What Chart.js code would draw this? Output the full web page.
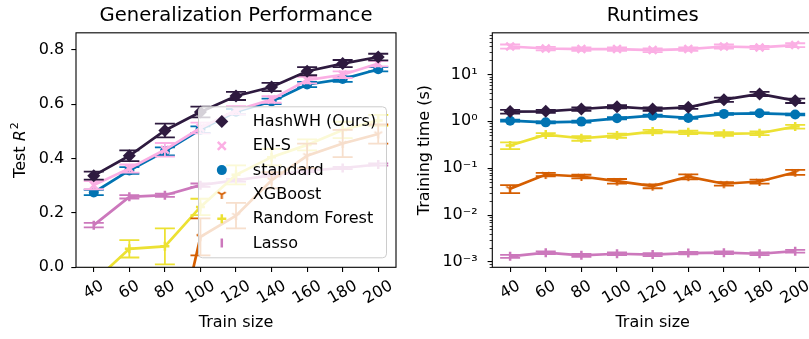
<!DOCTYPE html>
<html>
<head>
<meta charset="utf-8">
<script src="https://cdn.jsdelivr.net/npm/chart.js@4.4.1/dist/chart.umd.min.js"></script>
<style>
  html, body { margin: 0; padding: 0; background: #fff; overflow: hidden; }
  #wrap { position: relative; width: 809px; height: 339px; overflow: hidden; }
  canvas { position: absolute; top: 0; }
  #perf { left: 0; }
  #time { left: 404px; }
</style>
</head>
<body>
<div id="wrap">
  <canvas id="perf" width="404" height="339"></canvas>
  <canvas id="time" width="420" height="339"></canvas>
</div>
<script>
// data
const trainSizes = [40, 60, 80, 100, 120, 140, 160, 180, 200];
const seriesNames = ['HashWH (Ours)', 'EN-S', 'standard', 'XGBoost', 'Random Forest', 'Lasso'];

// Test R^2
const hashR2  = [0.337, 0.410, 0.503, 0.571, 0.630, 0.663, 0.721, 0.749, 0.773];
const ensR2   = [0.302, 0.363, 0.432, 0.512, 0.577, 0.617, 0.688, 0.708, 0.749];
const stdR2   = [0.275, 0.356, 0.426, 0.506, 0.572, 0.610, 0.672, 0.692, 0.728];
const xgbR2   = [-1.60, -0.90, -0.46, 0.112, 0.190, 0.320, 0.410, 0.455, 0.490];
const rfR2    = [-0.053, 0.068, 0.077, 0.222, 0.340, 0.405, 0.450, 0.505, 0.540];
const lassoR2 = [0.155, 0.259, 0.265, 0.302, 0.320, 0.338, 0.355, 0.365, 0.378];

const hashR2Err  = [0.015, 0.020, 0.025, 0.020, 0.015, 0.015, 0.015, 0.013, 0.012];
const ensR2Err   = [0.015, 0.015, 0.025, 0.020, 0.015, 0.012, 0.012, 0.012, 0.010];
const stdR2Err   = [0.010, 0.012, 0.015, 0.012, 0.010, 0.010, 0.010, 0.010, 0.008];
const xgbR2Err   = [0.30, 0.20, 0.10, 0.068, 0.047, 0.030, 0.045, 0.050, 0.035];
const rfR2Err    = [0.050, 0.032, 0.066, 0.030, 0.035, 0.030, 0.020, 0.030, 0.020];
const lassoR2Err = [0.008, 0.006, 0.006, 0.006, 0.005, 0.005, 0.005, 0.004, 0.004];

// Training time (s)
const hashTime  = [1.61, 1.63, 1.83, 2.05, 1.83, 1.99, 2.90, 3.83, 2.76];
const ensTime   = [39.4, 35.7, 34.7, 34.7, 33.0, 34.7, 39.4, 37.6, 42.2];
const stdTime   = [1.03, 0.95, 0.985, 1.16, 1.32, 1.18, 1.44, 1.48, 1.40];
const xgbTime   = [0.0365, 0.0734, 0.0666, 0.0529, 0.0414, 0.066, 0.0466, 0.0521, 0.082];
const rfTime    = [0.304, 0.521, 0.435, 0.496, 0.604, 0.583, 0.540, 0.556, 0.771];
const lassoTime = [0.00132, 0.00158, 0.00139, 0.00150, 0.00144, 0.00155, 0.00158, 0.00150, 0.00170];

const hashTimeErr  = [0.15, 0.12, 0.15, 0.15, 0.15, 0.15, 0.30, 0.40, 0.30];
const ensTimeErr   = [4, 3, 3, 3, 3, 3, 4, 3, 4];
const stdTimeErr   = [0.05, 0.04, 0.05, 0.06, 0.06, 0.05, 0.06, 0.06, 0.06];
const xgbTimeErr   = [0.007, 0.006, 0.006, 0.006, 0.004, 0.008, 0.004, 0.005, 0.010];
const rfTimeErr    = [0.05, 0.04, 0.05, 0.05, 0.05, 0.05, 0.05, 0.05, 0.07];
const lassoTimeErr = [0.0001, 0.0001, 0.0001, 0.0001, 0.0001, 0.0001, 0.0001, 0.0001, 0.00012];

const r2Ticks = [0, 0.2, 0.4, 0.6, 0.8];
const timeTicks = [1e-3, 1e-2, 1e-1, 1, 1e1];

// styles
const colors = ['#2e1a3f', '#fbafe4', '#0173b2', '#d55e00', '#ece133', '#cc78bc'];
const FONT = 'DejaVu Sans';

// matplotlib-like tri_down marker
function triDown(color, r) {
  const c = document.createElement('canvas');
  c.width = c.height = Math.ceil(r * 2 + 4);
  const g = c.getContext('2d');
  const m = c.width / 2;
  g.strokeStyle = color; g.lineWidth = 2; g.lineCap = 'butt';
  g.beginPath();
  g.moveTo(m, m); g.lineTo(m, m + r);
  g.moveTo(m, m); g.lineTo(m + 0.866 * r, m - 0.5 * r);
  g.moveTo(m, m); g.lineTo(m - 0.866 * r, m - 0.5 * r);
  g.stroke();
  return c;
}

const markers = [
  { style: 'rectRot', r: 6.5, bw: 0 },
  { style: 'crossRot', r: 5.5, bw: 2.5 },
  { style: 'circle', r: 5, bw: 0 },
  { style: triDown(colors[3], 4.5), r: 5, bw: 0 },
  { style: 'cross', r: 4.5, bw: 2.5 },
  { style: 'line', r: 4.5, bw: 2.5, rot: 90 }
];

function makeDatasets(values, errors) {
  return seriesNames.map((name, k) => ({
    label: name,
    data: trainSizes.map((x, i) => ({ x: x, y: values[k][i] })),
    errors: errors[k],
    borderColor: colors[k],
    backgroundColor: colors[k],
    borderWidth: 2.7,
    pointStyle: markers[k].style,
    pointRadius: markers[k].r,
    pointRotation: markers[k].rot || 0,
    pointBorderWidth: markers[k].bw,
    pointBackgroundColor: colors[k],
    pointBorderColor: colors[k],
    tension: 0
  }));
}

// --- plugins ---
const errorBars = {
  id: 'errorBars',
  beforeDatasetDraw(chart, args) {
    const ds = chart.data.datasets[args.index];
    if (!ds.errors) return;
    const { ctx, chartArea: a } = chart;
    const xs = chart.scales.x, ys = chart.scales.y;
    const isLog = ys.type === 'logarithmic';
    ctx.save();
    ctx.beginPath();
    ctx.rect(a.left, a.top, a.right - a.left, a.bottom - a.top);
    ctx.clip();
    ctx.strokeStyle = ds.borderColor;
    ctx.lineWidth = 1.8;
    ds.data.forEach((p, i) => {
      const e = ds.errors[i];
      let lo = p.y - e, hi = p.y + e;
      if (isLog && lo <= 0) lo = p.y * 0.5;
      const x = xs.getPixelForValue(p.x);
      const y1 = ys.getPixelForValue(lo), y2 = ys.getPixelForValue(hi);
      ctx.beginPath();
      ctx.moveTo(x, y1); ctx.lineTo(x, y2);
      ctx.moveTo(x - 10, y1); ctx.lineTo(x + 10, y1);
      ctx.moveTo(x - 10, y2); ctx.lineTo(x + 10, y2);
      ctx.stroke();
    });
    ctx.restore();
  }
};

const frame = {
  id: 'frame',
  afterDatasetsDraw(chart) {
    const { ctx, chartArea: a } = chart;
    ctx.save();
    ctx.strokeStyle = '#000';
    ctx.lineWidth = 1.1;
    ctx.strokeRect(a.left, a.top, a.right - a.left, a.bottom - a.top);
    ctx.restore();
  }
};

// rotated x tick labels, centred under the tick like matplotlib
const xLabels = {
  id: 'xLabels',
  afterDraw(chart) {
    const { ctx, chartArea: a } = chart;
    const xs = chart.scales.x;
    ctx.save();
    ctx.font = '16px ' + FONT;
    ctx.fillStyle = '#000';
    ctx.textAlign = 'center';
    ctx.textBaseline = 'middle';
    trainSizes.forEach(v => {
      const t = String(v);
      const w = ctx.measureText(t).width;
      const px = xs.getPixelForValue(v);
      const cy = a.bottom + 11.5 + (w * 0.5 + 14 * 0.866) / 2;
      ctx.save();
      ctx.translate(px, cy);
      ctx.rotate(-Math.PI / 6);
      ctx.fillText(t, 0, 0);
      ctx.restore();
    });
    ctx.restore();
  }
};

const minorTicks = {
  id: 'minorTicks',
  afterDraw(chart) {
    const ys = chart.scales.y;
    if (ys.type !== 'logarithmic') return;
    const { ctx, chartArea: a } = chart;
    ctx.save();
    ctx.strokeStyle = '#000';
    ctx.lineWidth = 0.8;
    for (let d = -4; d <= 2; d++) {
      for (let m = 2; m <= 9; m++) {
        const v = m * Math.pow(10, d);
        if (v < ys.min || v > ys.max) continue;
        const y = Math.round(ys.getPixelForValue(v)) + 0.5;
        ctx.beginPath();
        ctx.moveTo(a.left - 2.7, y); ctx.lineTo(a.left, y);
        ctx.stroke();
      }
    }
    ctx.restore();
  }
};

function drawMarker(ctx, k, x, y) {
  const c = colors[k];
  ctx.save();
  ctx.fillStyle = c; ctx.strokeStyle = c; ctx.lineWidth = 2.5;
  ctx.beginPath();
  if (k === 0) {
    const r = 6.5;
    ctx.moveTo(x - r, y); ctx.lineTo(x, y - r); ctx.lineTo(x + r, y); ctx.lineTo(x, y + r);
    ctx.closePath(); ctx.fill();
  } else if (k === 1) {
    const r = 4;
    ctx.moveTo(x - r, y - r); ctx.lineTo(x + r, y + r);
    ctx.moveTo(x + r, y - r); ctx.lineTo(x - r, y + r);
    ctx.stroke();
  } else if (k === 2) {
    ctx.arc(x, y, 5, 0, Math.PI * 2); ctx.fill();
  } else if (k === 3) {
    const img = markers[3].style;
    ctx.drawImage(img, x - img.width / 2, y - img.height / 2);
  } else if (k === 4) {
    ctx.moveTo(x - 4.5, y); ctx.lineTo(x + 4.5, y);
    ctx.moveTo(x, y - 4.5); ctx.lineTo(x, y + 4.5);
    ctx.stroke();
  } else {
    ctx.moveTo(x, y - 4.5); ctx.lineTo(x, y + 4.5);
    ctx.stroke();
  }
  ctx.restore();
}

// legend box in lower right of the R^2 axes, semi-transparent like matplotlib
const boxLegend = {
  id: 'boxLegend',
  afterDraw(chart) {
    const { ctx, chartArea: a } = chart;
    const w = 188, h = 151;
    const left = a.right - 9.5 - w, top = a.bottom - 9.5 - h;
    ctx.save();
    ctx.beginPath();
    ctx.roundRect(left, top, w, h, 4);
    ctx.fillStyle = 'rgba(255,255,255,0.8)';
    ctx.fill();
    ctx.strokeStyle = '#cccccc';
    ctx.lineWidth = 1;
    ctx.stroke();
    ctx.font = '16px ' + FONT;
    ctx.fillStyle = '#000';
    ctx.textBaseline = 'middle';
    seriesNames.forEach((name, k) => {
      const y = top + 14.7 + k * 24.3;
      drawMarker(ctx, k, left + 23.3, y);
      ctx.fillStyle = '#000';
      ctx.fillText(name, left + 54.3, y + 0.5);
    });
    ctx.restore();
  }
};

// y title "Test R^2" with italic R and superscript
const r2Title = {
  id: 'r2Title',
  afterDraw(chart) {
    const { ctx, chartArea: a } = chart;
    ctx.save();
    ctx.translate(19, (a.top + a.bottom) / 2);
    ctx.rotate(-Math.PI / 2);
    ctx.fillStyle = '#000';
    ctx.textBaseline = 'alphabetic';
    ctx.font = '16px ' + FONT;
    const w1 = ctx.measureText('Test ').width;
    ctx.font = 'italic 16px ' + FONT;
    const w2 = ctx.measureText('R').width;
    ctx.font = '11px ' + FONT;
    const w3 = ctx.measureText('2').width;
    let x = -(w1 + w2 + w3 + 1) / 2;
    const base = 6;
    ctx.font = '16px ' + FONT;
    ctx.fillText('Test ', x, base);
    x += w1;
    ctx.font = 'italic 16px ' + FONT;
    ctx.fillText('R', x, base);
    x += w2 + 1;
    ctx.font = '11px ' + FONT;
    ctx.fillText('2', x, base - 7);
    ctx.restore();
  }
};

const supMap = { '-': '\u207B', '0': '\u2070', '1': '\u00B9', '2': '\u00B2', '3': '\u00B3' };
function powLabel(v) {
  const e = Math.round(Math.log10(v));
  return '10' + String(e).split('').map(c => supMap[c]).join('');
}

Chart.defaults.font.family = FONT;
Chart.defaults.font.size = 16;
Chart.defaults.color = '#000';

function tickGrid() {
  return { drawOnChartArea: false, drawTicks: true, tickLength: 4.7, color: '#000', lineWidth: 1.1 };
}

function xScale(height) {
  return {
    type: 'linear', min: 30, max: 210,
    afterBuildTicks: s => { s.ticks = trainSizes.map(v => ({ value: v })); },
    ticks: { display: false },
    grid: tickGrid(),
    border: { display: false },
    title: { display: true, text: 'Train size', font: { size: 16 }, padding: { top: 0, bottom: 7 } },
    afterFit: s => { s.height = height; }
  };
}

function titleOpts(text) {
  // fullSize false keeps the title centred over the plot area, not the canvas
  return { display: true, text: text, fullSize: false, font: { size: 19.6, weight: 'normal' },
           color: '#000', padding: { top: 4, bottom: 5.3 } };
}

// left: generalization performance
new Chart(document.getElementById('perf'), {
  type: 'line',
  data: {
    datasets: makeDatasets(
      [hashR2, ensR2, stdR2, xgbR2, rfR2, lassoR2],
      [hashR2Err, ensR2Err, stdR2Err, xgbR2Err, rfR2Err, lassoR2Err])
  },
  options: {
    responsive: false, animation: false, events: [],
    layout: { padding: { left: 0, right: 6.5, top: 0, bottom: 0 } },
    plugins: {
      legend: { display: false }, tooltip: { enabled: false },
      title: titleOpts('Generalization Performance')
    },
    scales: {
      x: xScale(71.7),
      y: {
        type: 'linear', min: 0, max: 0.862,
        afterBuildTicks: s => { s.ticks = r2Ticks.map(v => ({ value: v })); },
        ticks: { callback: v => v.toFixed(1), padding: 7, font: { size: 16 } },
        grid: tickGrid(),
        border: { display: false },
        afterFit: s => { s.width = 76; }
      }
    }
  },
  plugins: [errorBars, frame, xLabels, boxLegend, r2Title]
});

// right: runtimes (log scale)
new Chart(document.getElementById('time'), {
  type: 'line',
  data: {
    datasets: makeDatasets(
      [hashTime, ensTime, stdTime, xgbTime, rfTime, lassoTime],
      [hashTimeErr, ensTimeErr, stdTimeErr, xgbTimeErr, rfTimeErr, lassoTimeErr])
  },
  options: {
    responsive: false, animation: false, events: [],
    layout: { padding: { left: 0, right: 11, top: 0, bottom: 0 } },
    plugins: {
      legend: { display: false }, tooltip: { enabled: false },
      title: titleOpts('Runtimes')
    },
    scales: {
      x: xScale(71.7),
      y: {
        type: 'logarithmic', min: Math.pow(10, -3.113), max: Math.pow(10, 1.887),
        afterBuildTicks: s => { s.ticks = timeTicks.map(v => ({ value: v })); },
        ticks: { callback: v => powLabel(v), padding: 10, font: { size: 16 } },
        grid: tickGrid(),
        border: { display: false },
        title: { display: true, text: 'Training time (s)', font: { size: 16 }, padding: { top: 11, bottom: 0 } },
        afterFit: s => { s.width = 88.3; }
      }
    }
  },
  plugins: [errorBars, frame, xLabels, minorTicks]
});
</script>
</body>
</html>
